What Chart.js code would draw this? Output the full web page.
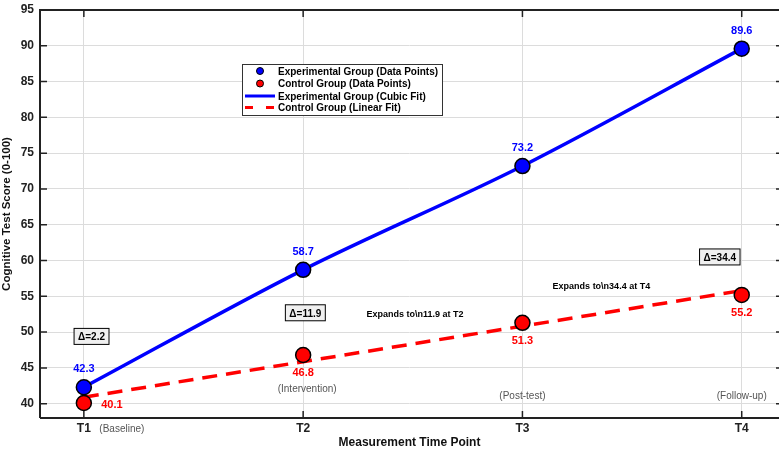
<!DOCTYPE html>
<html>
<head>
<meta charset="utf-8">
<script src="https://cdn.jsdelivr.net/npm/chart.js@4.4.1/dist/chart.umd.min.js"></script>
<style>
  html, body { margin: 0; padding: 0; overflow: hidden; background: #fff; }
  canvas { display: block; }
</style>
</head>
<body>
<canvas id="myChart" width="779" height="452"></canvas>
<script>
  // data
  const timePoints = [1, 2, 3, 4];
  const tickLabels = ['T1', 'T2', 'T3', 'T4'];
  const phaseLabels = ['(Baseline)', '(Intervention)', '(Post-test)', '(Follow-up)'];
  const experimental = [42.3, 58.7, 73.2, 89.6];
  const control = [40.1, 46.8, 51.3, 55.2];
  const controlFitX = [1, 4];
  const controlFitY = [40.9, 55.8];
  const gaps = ['Δ=2.2', 'Δ=11.9', 'Δ=34.4'];

  const FONT = 'Liberation Sans, Arial, sans-serif';
  const BLUE = '#0000ff';
  const RED = '#ff0000';

  const toXY = (xs, ys) => xs.map((x, i) => ({ x: x, y: ys[i] }));

  const annotate = {
    id: 'annotate',
    afterDatasetsDraw(chart) {
      const c = chart.ctx;
      const xs = chart.scales.x, ys = chart.scales.y;
      const px = v => xs.getPixelForValue(v);
      const py = v => ys.getPixelForValue(v);
      c.save();
      c.textAlign = 'center';
      c.textBaseline = 'middle';

      // value labels
      c.font = 'bold 11px ' + FONT;
      experimental.forEach((v, i) => {
        c.fillStyle = BLUE;
        c.fillText(v.toFixed(1), px(timePoints[i]), py(v) - 18);
      });
      control.forEach((v, i) => {
        c.fillStyle = RED;
        if (i === 0) c.fillText(v.toFixed(1), px(timePoints[i]) + 28, py(v) + 2);
        else c.fillText(v.toFixed(1), px(timePoints[i]), py(v) + 18);
      });

      // phase labels
      c.font = '10px ' + FONT;
      c.fillStyle = '#555';
      c.fillText(phaseLabels[0], px(1) + 38, chart.chartArea.bottom + 11);
      c.fillText(phaseLabels[1], px(2) + 4, py(42.0));
      c.fillText(phaseLabels[2], px(3), py(41.1));
      c.fillText(phaseLabels[3], px(4), py(41.0));

      // gap boxes
      const boxes = [[1.035, 49.4], [2.01, 52.7], [3.9, 60.5]];
      c.font = 'bold 10px ' + FONT;
      boxes.forEach((b, i) => {
        const w = c.measureText(gaps[i]).width + 8;
        const x = px(b[0]), y = py(b[1]);
        c.fillStyle = '#f0f0f0';
        c.fillRect(x - w / 2, y - 8, w, 16);
        c.strokeStyle = '#000';
        c.lineWidth = 1;
        c.strokeRect(x - w / 2, y - 8, w, 16);
        c.fillStyle = '#000';
        c.fillText(gaps[i], x, y + 1);
      });

      // text notes (literal backslash-n as in the reference)
      c.font = 'bold 9px ' + FONT;
      c.fillStyle = '#000';
      c.fillText('Expands to\\n11.9 at T2', px(2.51), py(52.4));
      c.fillText('Expands to\\n34.4 at T4', px(3.36), py(56.3));

      // legend
      const lx = 242, ly = 64, lw = 200, lh = 51;
      c.fillStyle = '#fff';
      c.fillRect(lx, ly, lw, lh);
      c.strokeStyle = '#333';
      c.lineWidth = 1;
      c.strokeRect(lx + 0.5, ly + 0.5, lw, lh);
      const rows = [71, 83.5, 96, 107.5];
      const names = ['Experimental Group (Data Points)', 'Control Group (Data Points)',
                     'Experimental Group (Cubic Fit)', 'Control Group (Linear Fit)'];
      c.font = 'bold 10px ' + FONT;
      c.textAlign = 'left';
      names.forEach((n, i) => {
        c.fillStyle = '#000';
        c.fillText(n, 278, rows[i] + 1);
      });
      [BLUE, RED].forEach((col, i) => {
        c.beginPath();
        c.arc(260, rows[i], 3.5, 0, Math.PI * 2);
        c.fillStyle = col;
        c.fill();
        c.lineWidth = 1;
        c.strokeStyle = '#000';
        c.stroke();
      });
      c.lineWidth = 3;
      c.strokeStyle = BLUE;
      c.beginPath(); c.moveTo(245, rows[2]); c.lineTo(275, rows[2]); c.stroke();
      c.strokeStyle = RED;
      c.setLineDash([8, 13]);
      c.beginPath(); c.moveTo(245, rows[3]); c.lineTo(275, rows[3]); c.stroke();
      c.setLineDash([]);
      c.restore();
    },
    afterDraw(chart) {
      const c = chart.ctx, a = chart.chartArea;
      const xs = chart.scales.x, ys = chart.scales.y;
      c.save();
      c.strokeStyle = '#222';
      c.lineWidth = 2;
      c.beginPath();
      c.moveTo(a.left, a.bottom); c.lineTo(a.left, a.top); c.lineTo(a.right, a.top);
      c.moveTo(a.left, a.bottom); c.lineTo(a.right, a.bottom);
      c.stroke();
      // inward ticks
      c.lineWidth = 1.5;
      c.beginPath();
      timePoints.forEach(v => {
        const x = xs.getPixelForValue(v);
        c.moveTo(x, a.bottom); c.lineTo(x, a.bottom - 7);
        c.moveTo(x, a.top); c.lineTo(x, a.top + 7);
      });
      for (let v = 40; v <= 95; v += 5) {
        const y = ys.getPixelForValue(v);
        c.moveTo(a.left, y); c.lineTo(a.left + 7, y);
        c.moveTo(a.right, y); c.lineTo(a.right - 3, y);
      }
      c.stroke();
      c.restore();
    }
  };

  Chart.defaults.font.family = FONT;
  Chart.defaults.color = '#222';

  const ctx = document.getElementById('myChart');
  new Chart(ctx, {
    type: 'scatter',
    data: {
      datasets: [
        {
          type: 'line',
          label: 'Control Group (Linear Fit)',
          data: toXY(controlFitX, controlFitY),
          borderColor: RED,
          borderWidth: 3.5,
          borderDash: [15, 9],
          pointRadius: 0,
          fill: false,
          order: 4
        },
        {
          type: 'line',
          label: 'Experimental Group (Cubic Fit)',
          data: toXY(timePoints, experimental),
          borderColor: BLUE,
          borderWidth: 3.5,
          cubicInterpolationMode: 'monotone',
          pointRadius: 0,
          fill: false,
          order: 3
        },
        {
          label: 'Control Group (Data Points)',
          data: toXY(timePoints, control),
          backgroundColor: RED,
          borderColor: '#000',
          borderWidth: 1.5,
          pointRadius: 7.5,
          order: 2
        },
        {
          label: 'Experimental Group (Data Points)',
          data: toXY(timePoints, experimental),
          backgroundColor: BLUE,
          borderColor: '#000',
          borderWidth: 1.5,
          pointRadius: 7.5,
          order: 1
        }
      ]
    },
    options: {
      responsive: false,
      animation: false,
      layout: { autoPadding: false, padding: { top: 10, right: 0, left: 0, bottom: 0 } },
      plugins: {
        legend: { display: false },
        tooltip: { enabled: false }
      },
      scales: {
        x: {
          type: 'linear',
          min: 0.8,
          max: 4.17,
          afterBuildTicks: s => { s.ticks = timePoints.map(v => ({ value: v })); },
          afterFit: s => { s.height = 34; s.paddingLeft = 0; s.paddingRight = 0; },
          ticks: {
            callback: v => tickLabels[timePoints.indexOf(v)],
            font: { size: 12, weight: 'bold' },
            color: '#222',
            padding: 3
          },
          grid: { color: '#dcdcdc', drawTicks: false },
          border: { display: false },
          title: {
            display: true,
            text: 'Measurement Time Point',
            font: { size: 12, weight: 'bold' },
            color: '#111',
            padding: { top: 0, bottom: 2 }
          }
        },
        y: {
          min: 38,
          max: 95,
          afterBuildTicks: s => {
            const t = [];
            for (let v = 40; v <= 95; v += 5) t.push({ value: v });
            s.ticks = t;
          },
          afterFit: s => { s.width = 40; s.paddingTop = 0; s.paddingBottom = 0; },
          ticks: {
            font: { size: 12, weight: 'bold' },
            color: '#222',
            padding: 6
          },
          grid: { color: '#dcdcdc', drawTicks: false },
          border: { display: false },
          title: {
            display: true,
            text: 'Cognitive Test Score (0-100)',
            font: { size: 11.5, weight: 'bold' },
            color: '#111',
            padding: { top: 0, bottom: 2 }
          }
        }
      }
    },
    plugins: [annotate]
  });
</script>
</body>
</html>
